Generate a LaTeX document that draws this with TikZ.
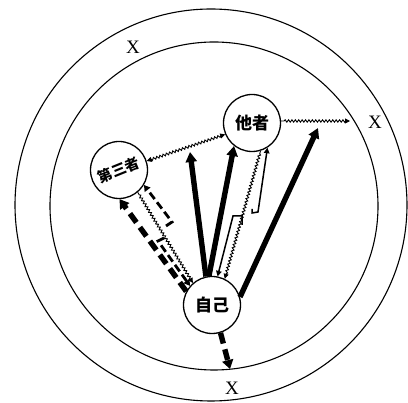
\documentclass[tikz,border=0pt]{standalone}
\usepackage{fontspec}
\setmainfont{Liberation Serif}
\newfontfamily\cjk{Noto Sans CJK JP}
\usetikzlibrary{arrows.meta,decorations.pathmorphing,calc}
\begin{document}
\begin{tikzpicture}[x=1pt,y=-1pt,
  ring/.style={draw,line width=1.1pt},
  person/.style={circle,draw,line width=1.3pt,minimum size=57pt,inner sep=0pt,fill=white,
    font=\cjk\bfseries\fontsize{17}{17}\selectfont},
  thickarrow/.style={line width=5.4pt,-{Triangle[width=11pt,length=10pt]}},
  thickdash/.style={line width=5.4pt,dash pattern=on 11pt off 6pt,-{Triangle[width=11pt,length=9pt]}},
  meddash/.style={line width=2.8pt,dash pattern=on 8pt off 4pt,-{Triangle[width=7pt,length=6pt]}},
  thinline/.style={line width=1.5pt,-{Triangle[width=5.5pt,length=5.5pt]}},
  wavy/.style={line width=0.9pt,decorate,decoration={snake,amplitude=1.2pt,segment length=3.4pt,pre length=3pt,post length=4pt}},
  wtip/.style={-{Triangle[width=5pt,length=5pt]}},
  wtips/.style={{Triangle[width=5pt,length=5pt]}-{Triangle[width=5pt,length=5pt]}},
  xlabel/.style={font=\fontsize{19}{19}\selectfont,inner sep=0pt}]
\useasboundingbox (0,0) rectangle (408,403);
\fill[white] (0,0) rectangle (408,403);
% rings
\draw[ring] (211,205) circle[radius=196];
\draw[ring] (214,206) circle[radius=164];
% X labels
\node[xlabel] (xtop) at (133,47) {X};
\node[xlabel] (xright) at (375,122) {X};
\node[xlabel] (xbottom) at (232,388) {X};
% free ends
\coordinate (tipA) at (190,152);
\coordinate (tipC) at (318,128);
\coordinate (tipX) at (350,121);
\coordinate (tipB) at (230,369);
% bracket corners
\coordinate (d1) at (172,222);
\coordinate (d0) at (166,226);
\coordinate (d2) at (158,241);
\coordinate (d3) at (164,238);
\coordinate (t1) at (258,212);
\coordinate (t0) at (252,213);
\coordinate (t00) at (252,209);
\coordinate (t2) at (233,216);
\coordinate (t3) at (242,216);
\coordinate (t4) at (242,225);
% persons
\node[person] (other) at (252,123) {他者};
\node[person] (third) at (119,170) {\fontsize{14.5}{14.5}\selectfont\rotatebox{22}{第三者}};
\node[person] (self) at (212,305) {自己};
% thick solid arrows
\draw[thickarrow] (self.102) -- (tipA);
\draw[thickarrow] (self.96) -- (other.232);
\draw[thickarrow] (self.16) -- (tipC);
% thick dashed arrows
\draw[thickdash] (self.152) -- (third.271);
\draw[thickdash] (self.287) -- (tipB);
% wavy lines
\draw[wavy,wtip] (other.4) -- (tipX);
\draw[wavy,wtips] (third.18) -- (other.203);
\draw[wavy,wtip] (third.310) -- (self.131);
\draw[wavy,wtip] (other.287) -- (self.64);
% medium dashed with brackets
\draw[meddash] (d0) -- (d1) -- (third.329);
\draw[meddash] (d3) -- (d2) -- (self.139);
% thin line with brackets
\draw[thinline] (t00) -- (t0) -- (t1) -- (other.302);
\draw[thinline] (t4) -- (t3) -- (t2) -- (self.79);
\end{tikzpicture}
\end{document}
